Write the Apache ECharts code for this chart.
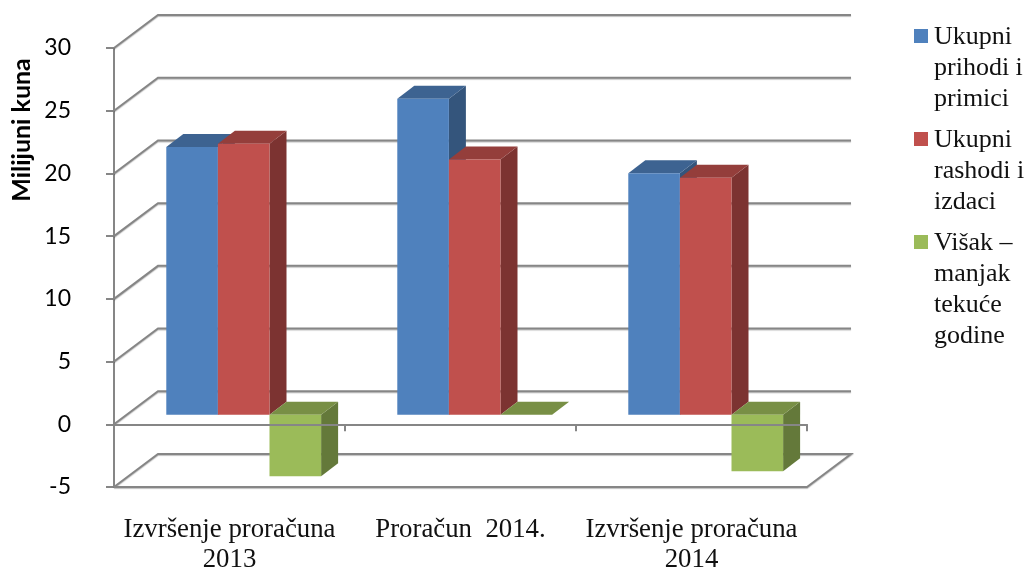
<!DOCTYPE html>
<html>
<head>
<meta charset="utf-8">
<style>html,body{margin:0;padding:0;background:#fff}#main{width:1026px;height:567px}</style>
<script src="https://cdn.jsdelivr.net/npm/echarts@6/dist/echarts.min.js"></script>
</head>
<body>
<div id="main"></div>
<script>
var categories = ['Izvršenje proračuna\n2013', 'Proračun  2014.', 'Izvršenje proračuna\n2014'];
var seriesNames = ['Ukupni\nprihodi i\nprimici', 'Ukupni\nrashodi i\nizdaci', 'Višak –\nmanjak\ntekuće\ngodine'];
var prihodi = [21.35, 25.2, 19.25];
var rashodi = [21.6, 20.35, 18.9];
var visak = [-4.9, 0, -4.5];
var yTicks = [-5, 0, 5, 10, 15, 20, 25, 30];
var yTitle = 'Milijuni kuna';

var chart = echarts.init(document.getElementById('main'));

var gridColor = '#868686';
var wallDx = 44, wallDy = 33;   // pomak straznjeg zida
var barDx = 17, barDy = 13;     // dubina stupca
var floorUp = 9.5;              // stupci stoje malo iza prednjeg ruba
var barShift = 14.2;

function barSeries(name, data, idx, front, top, side) {
    return {
        type: 'custom',
        name: name,
        coordinateSystem: 'cartesian2d',
        z: 3 + idx,
        data: data.map(function (v, i) { return [i, v]; }),
        encode: { x: 0, y: 1 },
        renderItem: function (params, api) {
            var w = api.size([1, 0])[0] * 0.2234;
            var p0 = api.coord([api.value(0), 0]);
            var p1 = api.coord([api.value(0), api.value(1)]);
            var x = p0[0] + barShift + (idx - 1.5) * w;
            var yBase = p0[1] - floorUp;
            var yVal = p1[1] - floorUp;
            var yTop = Math.min(yBase, yVal), yBot = Math.max(yBase, yVal);
            return {
                type: 'group',
                children: [{
                    type: 'polygon',
                    shape: { points: [[x + w, yTop], [x + w + barDx, yTop - barDy], [x + w + barDx, yBot - barDy], [x + w, yBot]] },
                    style: { fill: side }
                }, {
                    type: 'polygon',
                    shape: { points: [[x, yTop], [x + barDx, yTop - barDy], [x + w + barDx, yTop - barDy], [x + w, yTop]] },
                    style: { fill: top }
                }, {
                    type: 'rect',
                    shape: { x: x, y: yTop, width: w, height: yBot - yTop },
                    style: { fill: front }
                }]
            };
        }
    };
}

var legendColors = ['#4f81bd', '#c0504d', '#9bbb59'];
var legendTops = [28, 131, 234];
var legendItems = [{
    type: 'text',
    x: 22, y: 130,
    rotation: Math.PI / 2,
    style: { text: yTitle, font: 'bold 25px Lato', fill: '#000', textAlign: 'center', textVerticalAlign: 'middle' }
}];
seriesNames.forEach(function (name, i) {
    legendItems.push({
        type: 'rect',
        left: 914, top: legendTops[i] + 1,
        shape: { width: 14, height: 14 },
        style: { fill: legendColors[i] }
    });
    legendItems.push({
        type: 'text',
        left: 934, top: legendTops[i] - 6,
        style: { text: name, font: '26px "Liberation Serif"', lineHeight: 31, fill: '#111' }
    });
});

var option = {
    animation: false,
    backgroundColor: '#fff',
    grid: { left: 114, right: 219, top: 48, bottom: 80, outerBoundsMode: 'none' },
    xAxis: {
        type: 'category',
        data: categories,
        z: 10,
        axisLine: { onZero: true, lineStyle: { color: gridColor, width: 2 } },
        axisTick: { show: true, alignWithLabel: false, length: 7, lineStyle: { color: gridColor, width: 2 } },
        axisLabel: { margin: 28, interval: 0, color: '#111', fontFamily: 'Liberation Serif', fontSize: 26.8, lineHeight: 30 }
    },
    yAxis: {
        type: 'value',
        min: -5, max: 30, interval: 5,
        splitLine: { show: false },
        axisLine: { show: true, onZero: false, lineStyle: { color: gridColor, width: 2 } },
        axisTick: { show: true, length: 8, lineStyle: { color: gridColor, width: 2 } },
        axisLabel: { margin: 43, padding: [4, 0, 0, 0], color: '#000', fontFamily: 'Lato', fontSize: 23 }
    },
    graphic: legendItems,
    series: [{
        type: 'custom',
        name: 'zid',
        coordinateSystem: 'cartesian2d',
        z: 1,
        silent: true,
        data: yTicks.map(function (t) { return [0, t]; }),
        encode: { y: 1 },
        renderItem: function (params, api) {
            var rect = params.coordSys;
            var y = api.coord([0, api.value(1)])[1];
            var pts = [[rect.x, y], [rect.x + wallDx, y - wallDy], [rect.x + rect.width + wallDx, y - wallDy]];
            if (api.value(1) === yTicks[0]) {
                pts.push([rect.x + rect.width, y]);
                pts.push([rect.x, y]);
            }
            return {
                type: 'polyline',
                shape: { points: pts },
                style: { fill: 'none', stroke: gridColor, lineWidth: 2, shadowColor: 'rgba(0,0,0,0.25)', shadowBlur: 1, shadowOffsetY: 1 }
            };
        }
    },
    barSeries(seriesNames[0], prihodi, 0, '#4f81bd', '#3d6391', '#34557c'),
    barSeries(seriesNames[1], rashodi, 1, '#c0504d', '#943e3b', '#7c3331'),
    barSeries(seriesNames[2], visak, 2, '#9bbb59', '#788f45', '#64793a')]
};
chart.setOption(option);
</script>
</body>
</html>
